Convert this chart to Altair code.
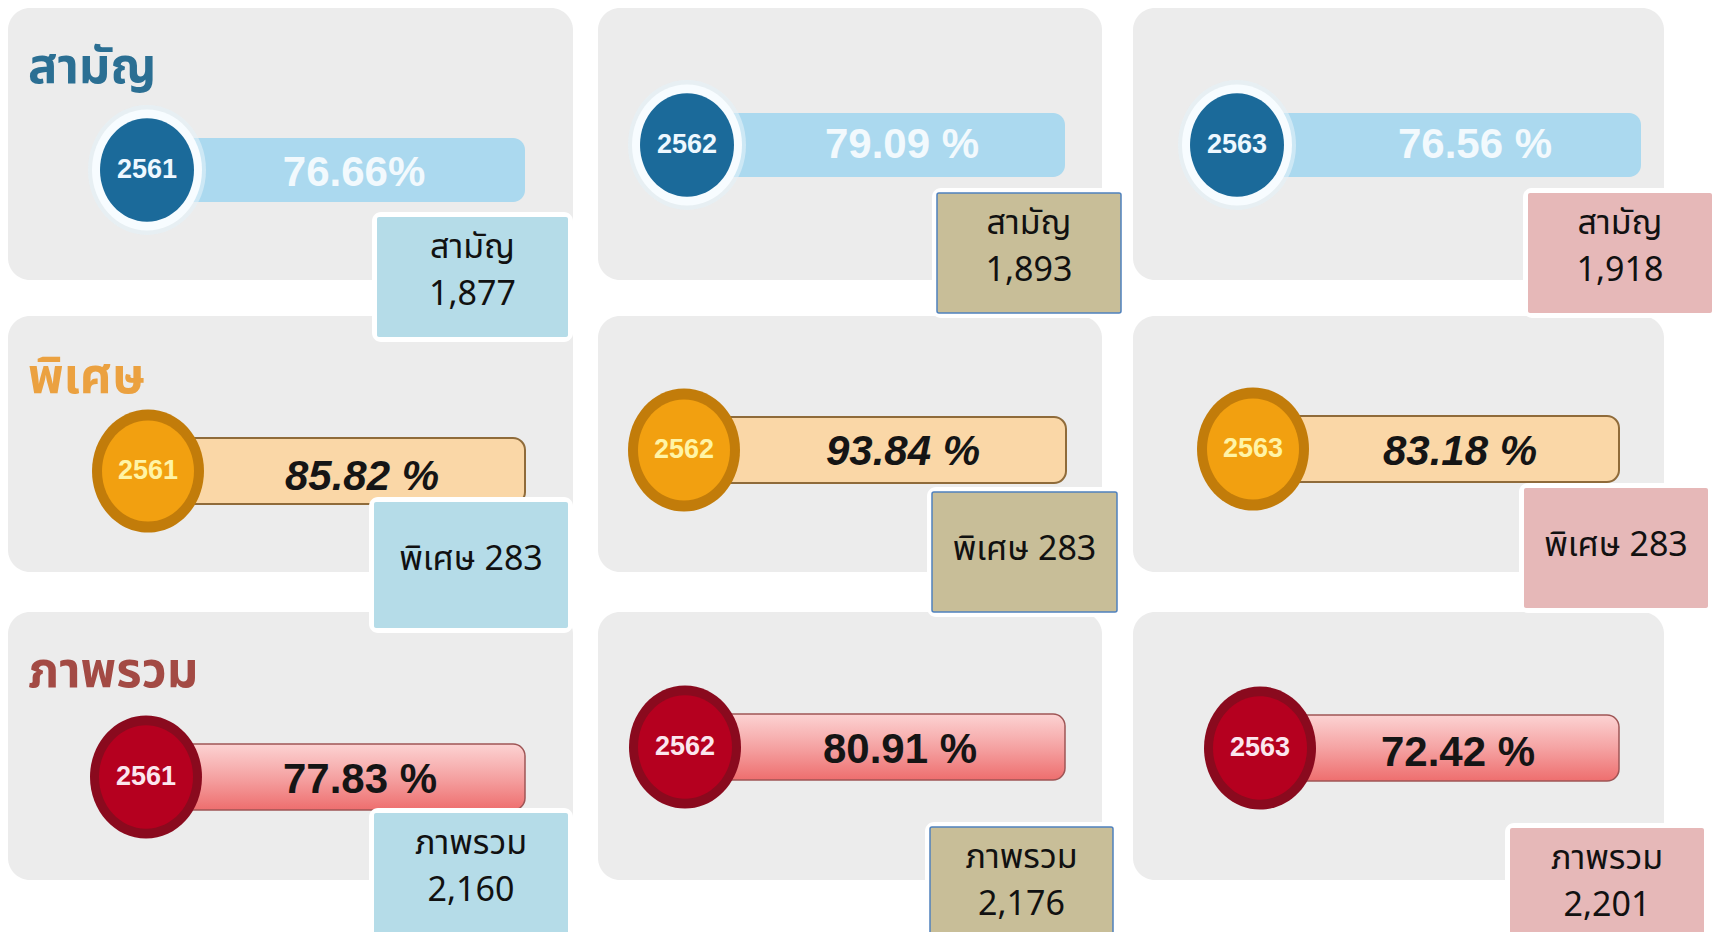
import altair as alt
import pandas as pd

# ---------------- data ----------------
categories = ["สามัญ", "พิเศษ", "ภาพรวม"]
years = ["2561", "2562", "2563"]
pct_saman = ["76.66%", "79.09 %", "76.56 %"]
pct_pised = ["85.82 %", "93.84 %", "83.18 %"]
pct_total = ["77.83 %", "80.91 %", "72.42 %"]
count_saman = ["1,877", "1,893", "1,918"]
count_pised = ["283", "283", "283"]
count_total = ["2,160", "2,176", "2,201"]

pct_labels = [pct_saman, pct_pised, pct_total]
count_labels = [count_saman, count_pised, count_total]

# ---------------- layout (reference pixel space) ----------------
W, H = 1705, 924
X0, Y0 = 8, 8
panel_x = [(8, 573), (598, 1102), (1133, 1664)]
panel_y = [(8, 280), (316, 572), (612, 880)]
circle_c = [[(147, 170), (687, 145), (1237, 145)],
            [(148, 471), (684, 450), (1253, 449)],
            [(146, 777), (685, 747), (1260, 748)]]
bar_right = [[525, 1065, 1641], [525, 1066, 1619], [525, 1065, 1619]]
bar_half = [32, 33, 33]
box = [[(377, 568, 217, 337), (937, 1121, 193, 313), (1528, 1712, 193, 313)],
       [(374, 568, 502, 628), (932, 1117, 492, 612), (1524, 1708, 488, 608)],
       [(374, 568, 813, 937), (930, 1113, 827, 940), (1510, 1704, 828, 940)]]
pct_pos = [[(354, 173), (902, 145), (1475, 145)],
           [(362, 477), (903, 452), (1460, 452)],
           [(360, 780), (900, 750), (1458, 753)]]
title_pos = [(28, 68), (28, 378), (28, 672)]
box_fill = ["#b5dce8", "#c8be98", "#e6b8b8"]
box_stroke = [None, "#4f81bd", None]

ring_w = [110, 112, 112]
core_w = [94, 92, 94]
ring_col = ["#f7fcff", "#c27c0a", "#8a0a1e"]
core_col = ["#1b6a9a", "#f2a010", "#b5001f"]
year_col = ["#eef8ff", "#fff4a6", "#fbe6ee"]
pct_col = ["#f2f9fd", "#151515", "#151515"]
pct_italic = [False, True, False]
title_col = ["#2b6f93", "#eba140", "#a34a44"]

xs = alt.Scale(domain=[X0, X0 + W], range=[0, W])
ys = alt.Scale(domain=[Y0, Y0 + H], range=[0, H])

def X(f="x"):
    return alt.X(f"{f}:Q", scale=xs, axis=None)

def Y(f="y"):
    return alt.Y(f"{f}:Q", scale=ys, axis=None)

ELL = "M-1,0A1,1.1,0,1,1,1,0A1,1.1,0,1,1,-1,0Z"
THAI = "Noto Sans Thai, Tahoma, sans-serif"

layers = []

# panels
prow = []
for r in range(3):
    for c in range(3):
        prow.append(dict(x=panel_x[c][0], x2=panel_x[c][1], y=panel_y[r][0], y2=panel_y[r][1]))
layers.append(alt.Chart(pd.DataFrame(prow)).mark_rect(cornerRadius=22, color="#ececec").encode(
    x=X(), x2="x2:Q", y=Y(), y2="y2:Q"))

# titles
for r in range(3):
    df = pd.DataFrame([dict(x=title_pos[r][0], y=title_pos[r][1], t=categories[r])])
    layers.append(alt.Chart(df).mark_text(align="left", baseline="middle", fontSize=49, fontWeight="bold",
                                          font=THAI, color=title_col[r]).encode(
        x=X(), y=Y(), text="t:N"))

# bars
for r in range(3):
    rows = []
    for c in range(3):
        cx, cy = circle_c[r][c]
        rows.append(dict(x=cx, x2=bar_right[r][c], y=cy - bar_half[r], y2=cy + bar_half[r]))
    df = pd.DataFrame(rows)
    if r == 0:
        mk = alt.Chart(df).mark_rect(cornerRadius=12, color="#abd9ef")
    elif r == 1:
        mk = alt.Chart(df).mark_rect(cornerRadius=12, fill="#fad7a7", stroke="#8f6b3a", strokeWidth=2)
    else:
        grad = alt.Gradient(gradient="linear", x1=0, x2=0, y1=0, y2=1,
                            stops=[alt.GradientStop(color="#fcd3d3", offset=0),
                                   alt.GradientStop(color="#f5a3a3", offset=0.5),
                                   alt.GradientStop(color="#ee6e6e", offset=1)])
        mk = alt.Chart(df).mark_rect(cornerRadius=12, fill=grad, stroke="#9e5555", strokeWidth=1.5)
    layers.append(mk.encode(x=X(), x2="x2:Q", y=Y(), y2="y2:Q"))

# circles + years + pct labels
for r in range(3):
    rows = []
    for c in range(3):
        cx, cy = circle_c[r][c]
        rows.append(dict(x=cx, y=cy, yr=years[c], px=pct_pos[r][c][0], py=pct_pos[r][c][1], p=pct_labels[r][c]))
    df = pd.DataFrame(rows)
    base = alt.Chart(df)
    if r == 0:
        layers.append(base.mark_point(shape=ELL, filled=True, size=118 * 118, color="#e4f2f9", opacity=0.6).encode(x=X(), y=Y()))
    layers.append(base.mark_point(shape=ELL, filled=True, size=ring_w[r] ** 2, color=ring_col[r], opacity=1).encode(x=X(), y=Y()))
    layers.append(base.mark_point(shape=ELL, filled=True, size=core_w[r] ** 2, color=core_col[r], opacity=1).encode(x=X(), y=Y()))
    layers.append(base.mark_text(fontSize=27, fontWeight="bold", font="Liberation Sans", color=year_col[r],
                                 align="center", baseline="middle").encode(x=X(), y=Y(), text="yr:N"))
    kw = dict(fontStyle="italic") if pct_italic[r] else {}
    layers.append(base.mark_text(fontSize=42, fontWeight="bold", font="Liberation Sans", color=pct_col[r],
                                 align="center", baseline="middle", **kw).encode(x=X("px"), y=Y("py"), text="p:N"))

# label boxes
for c in range(3):
    rows = []
    for r in range(3):
        x1, x2, y1, y2 = box[r][c]
        rows.append(dict(x=x1, x2=x2, y=y1, y2=y2, bx=x1 - 5, bx2=x2 + 5, by=y1 - 5, by2=y2 + 5))
    df = pd.DataFrame(rows)
    layers.append(alt.Chart(df).mark_rect(cornerRadius=9, color="white").encode(
        x=X("bx"), x2="bx2:Q", y=Y("by"), y2="by2:Q"))
    kw = dict(stroke=box_stroke[c], strokeWidth=1.5) if box_stroke[c] else {}
    layers.append(alt.Chart(df).mark_rect(cornerRadius=2, fill=box_fill[c], **kw).encode(
        x=X(), x2="x2:Q", y=Y(), y2="y2:Q"))

# box texts
trows = []
for r in range(3):
    for c in range(3):
        x1, x2, y1, y2 = box[r][c]
        cx = (x1 + x2) / 2
        if r == 1:
            trows.append(dict(x=cx, y=y1 + 58, t=f"{categories[r]} {count_labels[r][c]}"))
        else:
            trows.append(dict(x=cx, y=y1 + 31, t=categories[r]))
            trows.append(dict(x=cx, y=y1 + 78, t=count_labels[r][c]))
layers.append(alt.Chart(pd.DataFrame(trows)).mark_text(fontSize=34, font=THAI,
                                                      color="#111111", align="center", baseline="middle").encode(
    x=X(), y=Y(), text="t:N"))

chart = alt.layer(*layers).properties(
    width=W, height=H, padding=0,
    autosize=alt.AutoSizeParams(type="none"),
    background="white",
).configure_view(strokeWidth=0)

chart.save("out.html", embed_options={"renderer": "svg", "actions": False})
